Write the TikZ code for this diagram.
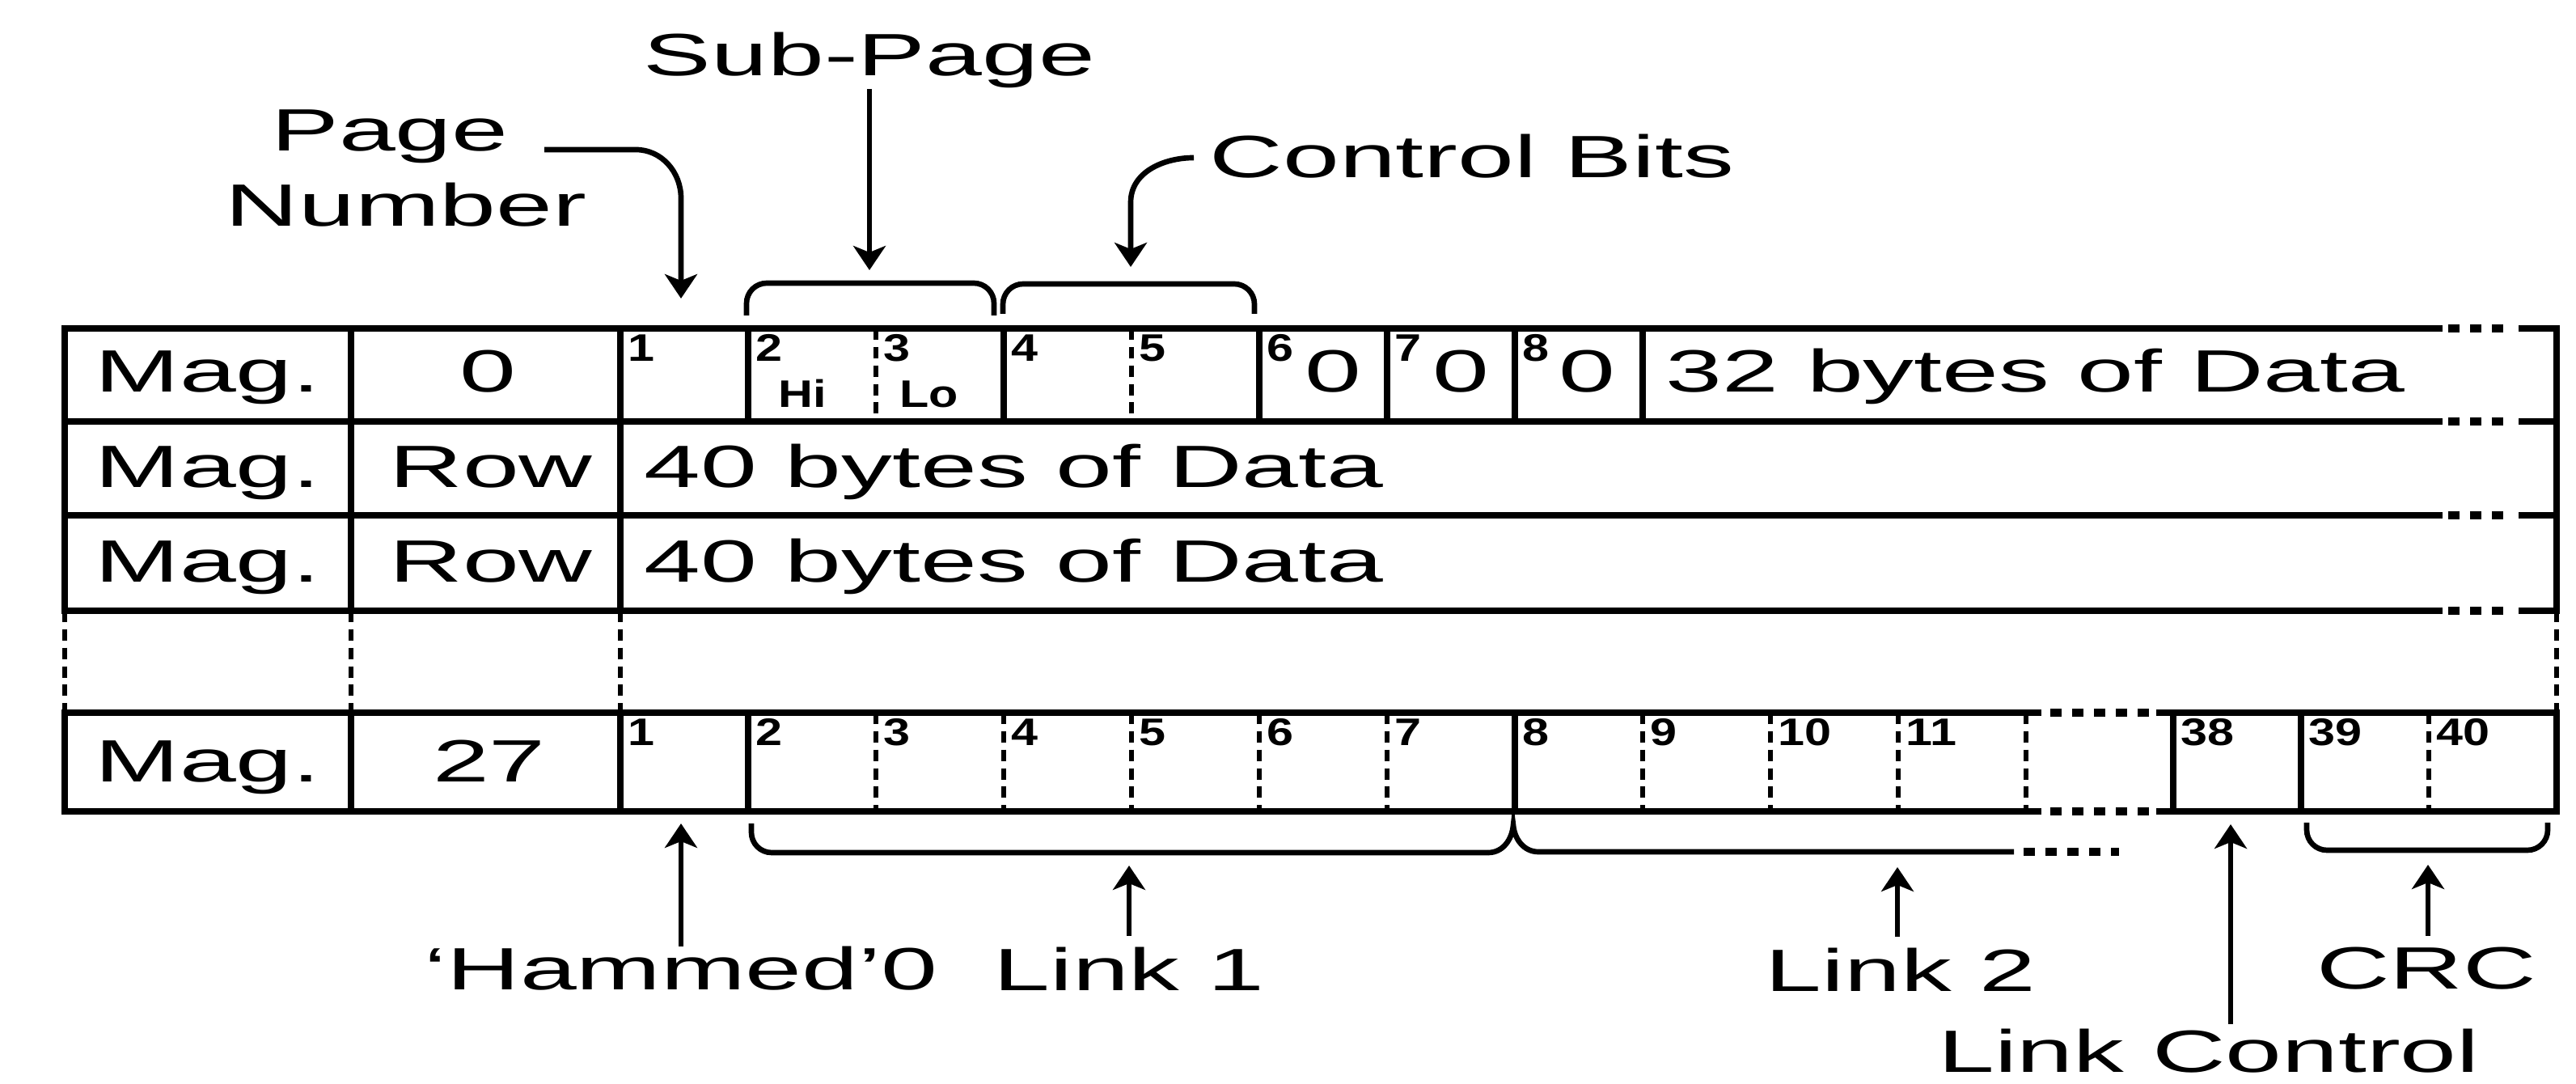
\documentclass[tikz,border=0pt]{standalone}
\usepackage{fontspec}
\setmainfont{Liberation Sans}[FakeStretch=1.7]
\newfontfamily\numfont{Liberation Sans}[FakeStretch=1.25]
\usetikzlibrary{arrows.meta}
\tikzset{>={Stealth[length=3mm,width=4mm,inset=0.8mm]}, % wide filled heads
cell/.style={line width=2.4pt, line cap=rect}, % solid borders of the packet rows
bytesep/.style={line width=1.5pt, dash pattern=on 4pt off 2.5pt}, % dashed byte borders
dotrun/.style={line width=2.6pt, dash pattern=on 4pt off 3.7pt}, % dotted run-outs
pointer/.style={line width=1.9pt}, % arrows and brackets
lbl/.style={font=\fontsize{21}{25}\selectfont, anchor=base, inner sep=0pt}, % big text
idx/.style={font=\numfont\bfseries\fontsize{13.5}{14}\selectfont, anchor=north west, inner sep=0pt}, % byte numbers
}
\begin{document}
\begin{tikzpicture}
    \useasboundingbox (0,0) rectangle (31.85,13.40);
    % rows 0, 1 and 2
    \draw[cell] (0.80,9.34) -- (30.16,9.34) (0.80,8.19) -- (30.16,8.19)
        (0.80,7.03) -- (30.16,7.03) (0.80,5.85) -- (30.16,5.85);
    \draw[dotrun] (30.27,9.34) -- (31.07,9.34) (30.27,8.19) -- (31.07,8.19)
        (30.27,7.03) -- (31.07,7.03) (30.27,5.85) -- (31.07,5.85);
    \draw[cell] (31.18,9.34) -- (31.61,9.34) -- (31.61,5.85) -- (31.18,5.85)
        (31.18,8.19) -- (31.61,8.19) (31.18,7.03) -- (31.61,7.03);
    \draw[cell] (0.80,9.34) -- (0.80,5.85) (4.34,9.34) -- (4.34,5.85) (7.67,9.34) -- (7.67,5.85);
    \draw[cell] (9.25,9.34) -- (9.25,8.19) (12.41,9.34) -- (12.41,8.19) (15.57,9.34) -- (15.57,8.19)
        (17.15,9.34) -- (17.15,8.19) (18.73,9.34) -- (18.73,8.19) (20.31,9.34) -- (20.31,8.19);
    \draw[bytesep] (10.83,9.34) -- (10.83,8.19) (13.99,9.34) -- (13.99,8.19);
    % rows left out
    \draw[bytesep] (0.80,5.85) -- (0.80,4.59) (4.34,5.85) -- (4.34,4.59)
        (7.67,5.85) -- (7.67,4.59) (31.61,5.85) -- (31.61,4.59);
    % row 27
    \draw[cell] (0.80,4.59) -- (25.20,4.59) (0.80,3.37) -- (25.20,3.37)
        (26.70,4.59) -- (31.61,4.59) -- (31.61,3.37) -- (26.70,3.37);
    \draw[dotrun] (25.35,4.59) -- (26.58,4.59) (25.35,3.37) -- (26.58,3.37);
    \draw[cell] (0.80,4.59) -- (0.80,3.37) (4.34,4.59) -- (4.34,3.37) (7.67,4.59) -- (7.67,3.37)
        (9.25,4.59) -- (9.25,3.37) (18.73,4.59) -- (18.73,3.37) (26.87,4.59) -- (26.87,3.37)
        (28.45,4.59) -- (28.45,3.37);
    \draw[bytesep] (10.83,4.59) -- (10.83,3.37) (12.41,4.59) -- (12.41,3.37) (13.99,4.59) -- (13.99,3.37)
        (15.57,4.59) -- (15.57,3.37) (17.15,4.59) -- (17.15,3.37) (20.31,4.59) -- (20.31,3.37)
        (21.89,4.59) -- (21.89,3.37) (23.47,4.59) -- (23.47,3.37) (25.05,4.59) -- (25.05,3.37)
        (30.03,4.59) -- (30.03,3.37);

    % cell texts
    \node[lbl] (mag0) at (2.57,8.55) {Mag.};
    \node[lbl] (row0) at (6.03,8.55) {0};
    \node[idx] (r0b1) at (7.76,9.27) {1};
    \node[idx] (r0b2) at (9.34,9.27) {2};
    \node[idx, anchor=base west] (hi) at (9.62,8.36) {Hi};
    \node[idx] (r0b3) at (10.92,9.27) {3};
    \node[idx, anchor=base west] (lo) at (11.12,8.36) {Lo};
    \node[idx] (r0b4) at (12.50,9.27) {4};
    \node[idx] (r0b5) at (14.08,9.27) {5};
    \node[idx] (r0b6) at (15.66,9.27) {6};
    \node[lbl] (z6) at (16.48,8.55) {0};
    \node[idx] (r0b7) at (17.24,9.27) {7};
    \node[lbl] (z7) at (18.06,8.55) {0};
    \node[idx] (r0b8) at (18.82,9.27) {8};
    \node[lbl] (z8) at (19.62,8.55) {0};
    \node[lbl, anchor=base west] (data32) at (20.59,8.55) {32 bytes of Data};
    \node[lbl] (mag1) at (2.57,7.37) {Mag.};
    \node[lbl] (row1) at (6.07,7.37) {Row};
    \node[lbl, anchor=base west] (data1) at (7.96,7.37) {40 bytes of Data};
    \node[lbl] (mag2) at (2.57,6.20) {Mag.};
    \node[lbl] (row2) at (6.07,6.20) {Row};
    \node[lbl, anchor=base west] (data2) at (7.96,6.20) {40 bytes of Data};
    \node[lbl] (mag27) at (2.57,3.73) {Mag.};
    \node[lbl] (row27) at (6.05,3.73) {27};
    \node[idx] (b1) at (7.76,4.52) {1};
    \node[idx] (b2) at (9.34,4.52) {2};
    \node[idx] (b3) at (10.92,4.52) {3};
    \node[idx] (b4) at (12.50,4.52) {4};
    \node[idx] (b5) at (14.08,4.52) {5};
    \node[idx] (b6) at (15.66,4.52) {6};
    \node[idx] (b7) at (17.24,4.52) {7};
    \node[idx] (b8) at (18.82,4.52) {8};
    \node[idx] (b9) at (20.40,4.52) {9};
    \node[idx] (b10) at (21.98,4.52) {10};
    \node[idx] (b11) at (23.56,4.52) {11};
    \node[idx] (b38) at (26.96,4.52) {38};
    \node[idx] (b39) at (28.54,4.52) {39};
    \node[idx] (b40) at (30.12,4.52) {40};

    % labels above
    \node[lbl] (subpage) at (10.75,12.46) {Sub-Page};
    \node[lbl] (pagetxt) at (4.82,11.53) {Page};
    \node[lbl] (numtxt) at (5.02,10.60) {Number};
    \node[lbl, anchor=base west] (ctrlbits) at (14.95,11.20) {Control Bits};
    \coordinate (sptip) at (10.75,10.06);
    \coordinate (pgfrom) at (6.73,11.55);
    \coordinate (pgtip) at (8.42,9.71);
    \coordinate (cbfrom) at (14.76,11.45);
    \coordinate (cbtip) at (13.98,10.10);
    \draw[pointer, ->] (subpage) -- (sptip);
    \draw[pointer, ->] (pgfrom) -- (7.86,11.55) to[out=0,in=90] (8.42,10.95) -- (pgtip);
    \draw[pointer, ->] (cbfrom) to[out=180,in=90] (13.98,10.90) -- (cbtip);
    \draw[pointer, rounded corners=2.5mm] (9.23,9.50) -- (9.23,9.90) -- (12.29,9.90) -- (12.29,9.50);
    \draw[pointer, rounded corners=2.5mm] (12.40,9.52) -- (12.40,9.89) -- (15.51,9.89) -- (15.51,9.52);

    % labels below
    \node[lbl] (hammed) at (8.42,1.16) {‘Hammed’0};
    \node[lbl] (link1) at (13.96,1.15) {Link 1};
    \node[lbl] (link2) at (23.50,1.14) {Link 2};
    \node[lbl] (crc) at (30.00,1.17) {CRC};
    \node[lbl] (linkctrl) at (27.31,0.14) {Link Control};
    \coordinate (hmtip) at (8.42,3.22);
    \coordinate (l1tip) at (13.96,2.70);
    \coordinate (l2tip) at (23.46,2.68);
    \coordinate (crctip) at (30.02,2.71);
    \coordinate (lctip) at (27.58,3.21);
    \draw[pointer, ->] (hammed) -- (hmtip);
    \draw[pointer, ->, shorten <=1.4mm] (link1) -- (l1tip);
    \draw[pointer, ->, shorten <=1.4mm] (link2.north -| l2tip) -- (l2tip);
    \draw[pointer, ->, shorten <=1.4mm] (crc.north -| crctip) -- (crctip);
    \draw[pointer, ->, shorten <=0.6mm] (linkctrl.north -| lctip) -- (lctip);
    \draw[pointer, rounded corners=2.5mm] (9.29,3.22) -- (9.29,2.86) -- (18.40,2.86);
    \draw[pointer] (18.40,2.86) to[out=0,in=-95] (18.71,3.20) to[out=-85,in=180] (19.02,2.87) -- (24.90,2.87);
    \draw[dotrun] (25.02,2.87) -- (26.20,2.87);
    \draw[pointer, rounded corners=2.5mm] (28.52,3.23) -- (28.52,2.89) -- (31.50,2.89) -- (31.50,3.23);
\end{tikzpicture}
\end{document}
